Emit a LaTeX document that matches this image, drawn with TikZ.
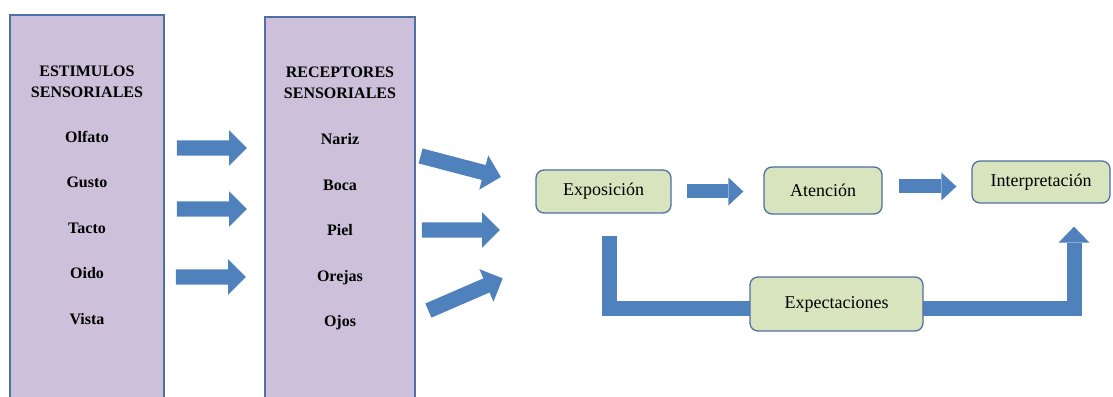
\documentclass[tikz,border=0pt]{standalone}
\usepackage{fontspec}
\setmainfont{Liberation Serif}
\usetikzlibrary{arrows.meta,positioning,shapes.arrows,backgrounds}
\definecolor{boxlila}{HTML}{CCC0DA}
\definecolor{boxverde}{HTML}{D7E4BD}
\definecolor{borde}{HTML}{4F6FA5}
\definecolor{flecha}{HTML}{4F81BD}
\begin{document}
\begin{tikzpicture}[x=1pt,y=1pt,
column/.style={draw=borde,line width=1.8pt,fill=boxlila,minimum width=154pt,minimum height=400pt},
head/.style={font=\fontsize{16}{21}\selectfont\bfseries,align=center},
item/.style={font=\fontsize{16}{19}\selectfont\bfseries,text height=11pt,text depth=3pt,inner sep=0pt},
stage/.style={draw=borde,line width=1.3pt,rounded corners=8pt,fill=boxverde,font=\fontsize{18}{22}\selectfont},
blk/.style={single arrow,fill=flecha,inner xsep=0pt,inner ysep=7.5pt,minimum height=70pt,single arrow head extend=10pt},
fat/.style={draw=flecha,line width=14pt,-{Triangle[width=28pt,length=15pt,line width=0pt]}},
node distance=45.5pt,on grid]
\useasboundingbox(0,0)rectangle(1113,396);
\clip(0,0)rectangle(1113,396);
\node[column](estimulos) at (87,181){};
\node[column,minimum width=150pt](receptores) at (340,179){};
\node[head](esttitle) at (87,314.5){ESTIMULOS\\SENSORIALES};
\node[item,below=57pt of esttitle](olfato){Olfato};
\node[item,below=of olfato](gusto){Gusto};
\node[item,below=of gusto](tacto){Tacto};
\node[item,below=of tacto](oido){Oido};
\node[item,below=of oido](vista){Vista};
\node[head](rectitle) at (340,313){RECEPTORES\\SENSORIALES};
\node[item,below=58pt of rectitle](nariz){Nariz};
\node[item,below=of nariz](boca){Boca};
\node[item,below=of boca](piel){Piel};
\node[item,below=of piel](orejas){Orejas};
\node[item,below=of orejas](ojos){Ojos};
\node[blk](flechaA) at (208,248){};
\node[blk](flechaB) at (208,187){};
\node[blk](flechaC) at (207,119){};
\node[blk,minimum height=83pt,rotate=-14.7](flechaD) at (457,230.5){};
\node[blk,minimum height=78pt](flechaE) at (457,166){};
\node[blk,minimum height=81pt,rotate=23.4](flechaF) at (462,100){};
\node[stage,minimum width=135pt,minimum height=43pt](expo) at (603.5,204.5){Exposición};
\node[stage,minimum width=118pt,minimum height=47pt](aten) at (823,205.5){Atención};
\node[stage,minimum width=138pt,minimum height=42pt](interp) at (1041,214){Interpretación};
\node[stage,minimum width=173pt,minimum height=54pt](expect) at (836.5,92){Expectaciones};
\draw[fat,shorten <=15pt,shorten >=20pt](expo.east)--(expo.east-|aten.west);
\draw[fat,shorten <=16pt,shorten >=15pt]([yshift=4pt]aten.east)--([yshift=4pt]aten.east-|interp.west);
\begin{scope}[on background layer]
\draw[fat,line width=15pt,-{Triangle[width=31pt,length=16pt,line width=0pt]}]([xshift=5.5pt,yshift=-22pt]expo.south)|-([yshift=-5pt]expect.center)-|([xshift=33pt,yshift=-23pt]interp.south);
\end{scope}
\end{tikzpicture}
\end{document}
